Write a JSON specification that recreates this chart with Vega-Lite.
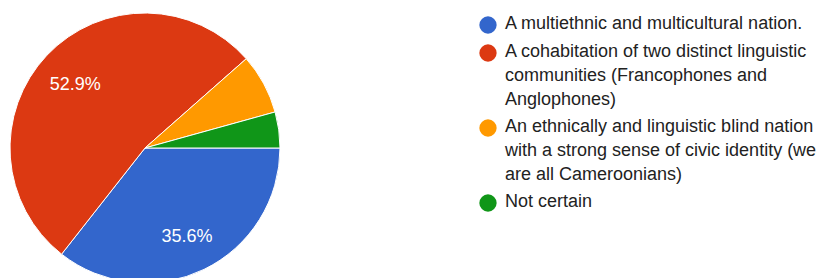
{
  "$schema": "https://vega.github.io/schema/vega-lite/v6.json",
  "width": 290,
  "height": 296,
  "padding": 0,
  "autosize": {"type": "pad"},
  "background": "white",
  "config": {"view": {"stroke": null}, "font": "Liberation Sans"},
  "data": {
    "values": [
      {"idx": 1, "option": "A multiethnic and multicultural nation.", "share": 0.356},
      {"idx": 2, "option": "A cohabitation of two distinct linguistic communities (Francophones and Anglophones)", "share": 0.529},
      {"idx": 3, "option": "An ethnically and linguistic blind nation with a strong sense of civic identity (we are all Cameroonians)", "share": 0.072},
      {"idx": 4, "option": "Not certain", "share": 0.043}
    ]
  },
  "encoding": {
    "theta": {"field": "share", "type": "quantitative", "stack": true, "scale": {"range": [1.5707963, 7.8539816]}},
    "order": {"field": "idx", "type": "quantitative"},
    "color": {
      "field": "option",
      "type": "nominal",
      "sort": {"field": "idx"},
      "scale": {
        "domain": [
          "A multiethnic and multicultural nation.",
          "A cohabitation of two distinct linguistic communities (Francophones and Anglophones)",
          "An ethnically and linguistic blind nation with a strong sense of civic identity (we are all Cameroonians)",
          "Not certain"
        ],
        "range": ["#3366cc", "#dc3912", "#ff9900", "#109618"]
      },
      "legend": {
        "title": null,
        "orient": "none",
        "legendX": 479,
        "legendY": 16,
        "padding": 0,
        "symbolType": "circle",
        "symbolSize": 300,
        "symbolStrokeWidth": 0,
        "labelFont": "Liberation Sans",
        "labelFontSize": 18,
        "labelColor": "#222222",
        "labelLimit": 0,
        "labelOffset": 8,
        "labelBaseline": "top",
        "rowPadding": 9,
        "labelExpr": "test(/cohabitation/, datum.label) ? ['A cohabitation of two distinct linguistic', 'communities (Francophones and', 'Anglophones)'] : test(/ethnically/, datum.label) ? ['An ethnically and linguistic blind nation', 'with a strong sense of civic identity (we', 'are all Cameroonians)'] : datum.label",
        "encode": {
          "labels": {"update": {"lineHeight": {"value": 24}, "dy": {"value": -10}}}
        }
      }
    }
  },
  "layer": [
    {
      "mark": {"type": "arc", "outerRadius": 135, "stroke": "white", "strokeWidth": 1}
    },
    {
      "mark": {"type": "text", "radius": 96, "fontSize": 18, "dy": 3, "font": "Liberation Sans"},
      "encoding": {
        "color": {
          "condition": {"test": "true", "value": "white"},
          "field": "option",
          "type": "nominal",
          "sort": {"field": "idx"},
          "legend": {
            "title": null,
            "orient": "none",
            "legendX": 479,
            "legendY": 16,
            "padding": 0,
            "symbolType": "circle",
            "symbolSize": 300,
            "symbolStrokeWidth": 0,
            "labelFont": "Liberation Sans",
            "labelFontSize": 18,
            "labelColor": "#222222",
            "labelLimit": 0,
            "labelOffset": 8,
            "labelBaseline": "top",
            "rowPadding": 9,
            "labelExpr": "test(/cohabitation/, datum.label) ? ['A cohabitation of two distinct linguistic', 'communities (Francophones and', 'Anglophones)'] : test(/ethnically/, datum.label) ? ['An ethnically and linguistic blind nation', 'with a strong sense of civic identity (we', 'are all Cameroonians)'] : datum.label",
            "encode": {
              "labels": {"update": {"lineHeight": {"value": 24}, "dy": {"value": -10}}}
            }
          }
        },
        "text": {"condition": {"test": "datum.share < 0.1", "value": ""}, "field": "share", "type": "quantitative", "format": ".1%"}
      }
    }
  ]
}
